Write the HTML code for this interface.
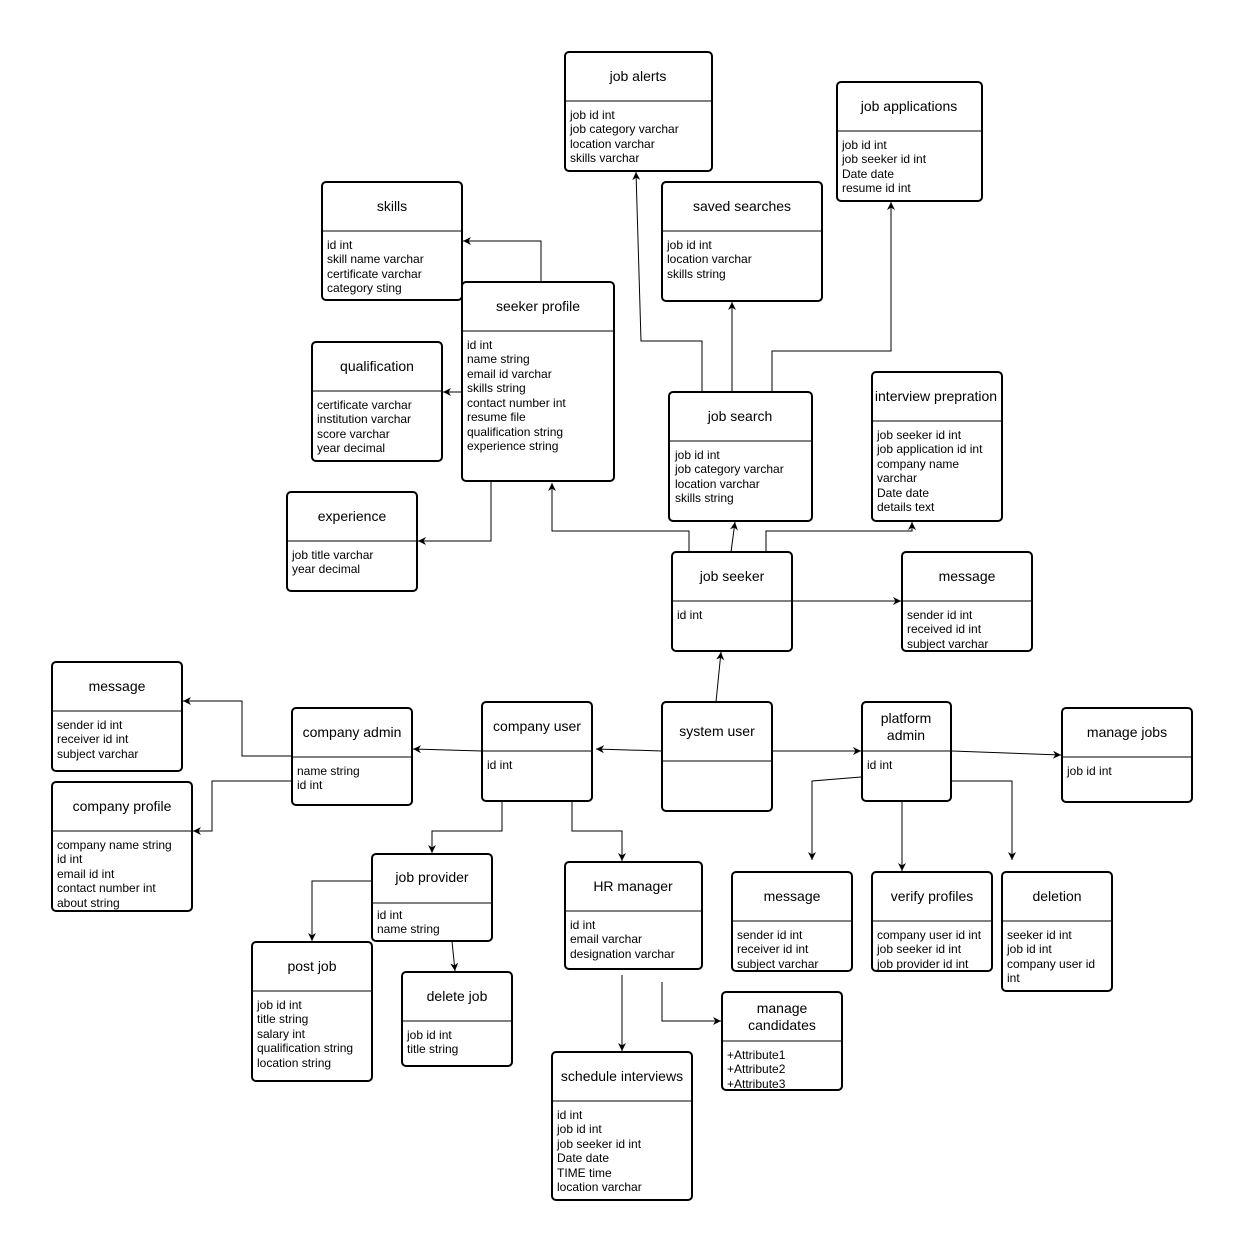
<!DOCTYPE html>
<html><head><meta charset="utf-8"><style>
html,body{margin:0;padding:0;background:#fff}
svg{display:block}
text{font-family:"Liberation Sans",Arial,sans-serif;fill:#000}
.h{font-size:14px;text-anchor:middle}
.b{font-size:12px}
.bx{fill:#fff;stroke:#000;stroke-width:2}
.c{fill:none;stroke:#000;stroke-width:1}
</style></head><body>
<svg width="1242" height="1252" viewBox="0 0 1242 1252" xmlns="http://www.w3.org/2000/svg">
<defs><marker id="a" viewBox="0 0 10 10" refX="10" refY="5" markerWidth="8" markerHeight="8" orient="auto" markerUnits="userSpaceOnUse"><path d="M0,0 L10,5 L0,10 L3,5 z" fill="#000"/></marker></defs>

<!-- connectors -->
<g class="c" marker-end="url(#a)">
<polyline class="c" points="541,282 541,241 463,241" marker-end="url(#a)"/>
<polyline class="c" points="462,392 443,392" marker-end="url(#a)"/>
<polyline class="c" points="491,481 491,541 418,541" marker-end="url(#a)"/>
<polyline class="c" points="689,552 689,531 552,531 552,483" marker-end="url(#a)"/>
<polyline class="c" points="731,552 735,522" marker-end="url(#a)"/>
<polyline class="c" points="766,552 766,531 912,531 912,522" marker-end="url(#a)"/>
<polyline class="c" points="792,601 901,601" marker-end="url(#a)"/>
<polyline class="c" points="702,392 702,341 641,341 636,172" marker-end="url(#a)"/>
<polyline class="c" points="732,392 732,302" marker-end="url(#a)"/>
<polyline class="c" points="772,392 772,351 891,351 891,202" marker-end="url(#a)"/>
<polyline class="c" points="716,702 721,652" marker-end="url(#a)"/>
<polyline class="c" points="662,751 596,749" marker-end="url(#a)"/>
<polyline class="c" points="772,751 861,751" marker-end="url(#a)"/>
<polyline class="c" points="482,751 413,749" marker-end="url(#a)"/>
<polyline class="c" points="292,756 242,756 242,701 183,701" marker-end="url(#a)"/>
<polyline class="c" points="292,781 212,781 212,831 193,831" marker-end="url(#a)"/>
<polyline class="c" points="502,801 502,831 432,831 432,853" marker-end="url(#a)"/>
<polyline class="c" points="572,801 572,831 622,831 622,861" marker-end="url(#a)"/>
<polyline class="c" points="372,881 312,881 312,941" marker-end="url(#a)"/>
<polyline class="c" points="452,941 455,971" marker-end="url(#a)"/>
<polyline class="c" points="622,975 622,1051" marker-end="url(#a)"/>
<polyline class="c" points="662,982 662,1021 721,1021" marker-end="url(#a)"/>
<polyline class="c" points="952,751 1061,755" marker-end="url(#a)"/>
<polyline class="c" points="861,777 812,781 812,860" marker-end="url(#a)"/>
<polyline class="c" points="902,801 902,871" marker-end="url(#a)"/>
<polyline class="c" points="951,781 1012,781 1012,860" marker-end="url(#a)"/>
</g>

<!-- boxes -->
<g>
<rect class="bx" x="565" y="52" width="147" height="119" rx="4"/><line class="c" stroke-width="2" x1="565" y1="101" x2="712" y2="101"/>
<text class="h" x="638" y="81">job alerts</text>
<text class="b" x="570" y="119">job id int</text><text class="b" x="570" y="133">job category varchar</text><text class="b" x="570" y="148">location varchar</text><text class="b" x="570" y="162">skills varchar</text>

<rect class="bx" x="837" y="82" width="145" height="119" rx="4"/><line class="c" stroke-width="2" x1="837" y1="131" x2="982" y2="131"/>
<text class="h" x="909" y="111">job applications</text>
<text class="b" x="842" y="149">job id int</text><text class="b" x="842" y="163">job seeker id int</text><text class="b" x="842" y="178">Date date</text><text class="b" x="842" y="192">resume id int</text>

<rect class="bx" x="322" y="182" width="140" height="118" rx="4"/><line class="c" stroke-width="2" x1="322" y1="231" x2="462" y2="231"/>
<text class="h" x="392" y="211">skills</text>
<text class="b" x="327" y="249">id int</text><text class="b" x="327" y="263">skill name varchar</text><text class="b" x="327" y="278">certificate varchar</text><text class="b" x="327" y="292">category sting</text>

<rect class="bx" x="662" y="182" width="160" height="119" rx="4"/><line class="c" stroke-width="2" x1="662" y1="231" x2="822" y2="231"/>
<text class="h" x="742" y="211">saved searches</text>
<text class="b" x="667" y="249">job id int</text><text class="b" x="667" y="263">location varchar</text><text class="b" x="667" y="278">skills string</text>

<rect class="bx" x="462" y="282" width="152" height="199" rx="4"/><line class="c" stroke-width="2" x1="462" y1="331" x2="614" y2="331"/>
<text class="h" x="538" y="311">seeker profile</text>
<text class="b" x="467" y="349">id int</text><text class="b" x="467" y="363">name string</text><text class="b" x="467" y="378">email id varchar</text><text class="b" x="467" y="392">skills string</text><text class="b" x="467" y="407">contact number int</text><text class="b" x="467" y="421">resume file</text><text class="b" x="467" y="436">qualification string</text><text class="b" x="467" y="450">experience string</text>

<rect class="bx" x="312" y="342" width="130" height="119" rx="4"/><line class="c" stroke-width="2" x1="312" y1="391" x2="442" y2="391"/>
<text class="h" x="377" y="371">qualification</text>
<text class="b" x="317" y="409">certificate varchar</text><text class="b" x="317" y="423">institution varchar</text><text class="b" x="317" y="438">score varchar</text><text class="b" x="317" y="452">year decimal</text>

<rect class="bx" x="669" y="392" width="143" height="129" rx="4"/><line class="c" stroke-width="2" x1="669" y1="441" x2="812" y2="441"/>
<text class="h" x="740" y="421">job search</text>
<text class="b" x="675" y="459">job id int</text><text class="b" x="675" y="473">job category varchar</text><text class="b" x="675" y="488">location varchar</text><text class="b" x="675" y="502">skills string</text>

<rect class="bx" x="872" y="372" width="130" height="149" rx="4"/><line class="c" stroke-width="2" x1="872" y1="421" x2="1002" y2="421"/>
<text class="h" x="936" y="401">interview prepration</text>
<text class="b" x="877" y="439">job seeker id int</text><text class="b" x="877" y="453">job application id int</text><text class="b" x="877" y="468">company name</text><text class="b" x="877" y="482">varchar</text><text class="b" x="877" y="497">Date date</text><text class="b" x="877" y="511">details text</text>

<rect class="bx" x="287" y="492" width="130" height="99" rx="4"/><line class="c" stroke-width="2" x1="287" y1="541" x2="417" y2="541"/>
<text class="h" x="352" y="521">experience</text>
<text class="b" x="292" y="559">job title varchar</text><text class="b" x="292" y="573">year decimal</text>

<rect class="bx" x="672" y="552" width="120" height="99" rx="4"/><line class="c" stroke-width="2" x1="672" y1="601" x2="792" y2="601"/>
<text class="h" x="732" y="581">job seeker</text>
<text class="b" x="677" y="619">id int</text>

<rect class="bx" x="902" y="552" width="130" height="99" rx="4"/><line class="c" stroke-width="2" x1="902" y1="601" x2="1032" y2="601"/>
<text class="h" x="967" y="581">message</text>
<text class="b" x="907" y="619">sender id int</text><text class="b" x="907" y="633">received id int</text><text class="b" x="907" y="648">subject varchar</text>

<rect class="bx" x="52" y="662" width="130" height="109" rx="4"/><line class="c" stroke-width="2" x1="52" y1="711" x2="182" y2="711"/>
<text class="h" x="117" y="691">message</text>
<text class="b" x="57" y="729">sender id int</text><text class="b" x="57" y="743">receiver id int</text><text class="b" x="57" y="758">subject varchar</text>

<rect class="bx" x="292" y="708" width="120" height="97" rx="4"/><line class="c" stroke-width="2" x1="292" y1="757" x2="412" y2="757"/>
<text class="h" x="352" y="737">company admin</text>
<text class="b" x="297" y="775">name string</text><text class="b" x="297" y="789">id int</text>

<rect class="bx" x="482" y="702" width="110" height="99" rx="4"/><line class="c" stroke-width="2" x1="482" y1="751" x2="592" y2="751"/>
<text class="h" x="537" y="731">company user</text>
<text class="b" x="487" y="769">id int</text>

<rect class="bx" x="662" y="702" width="110" height="109" rx="4"/><line class="c" stroke-width="2" x1="662" y1="761" x2="772" y2="761"/>
<text class="h" x="717" y="736">system user</text>

<rect class="bx" x="862" y="702" width="89" height="99" rx="4"/><line class="c" stroke-width="2" x1="862" y1="751" x2="951" y2="751"/>
<text class="h" x="906" y="723">platform</text><text class="h" x="906" y="740">admin</text>
<text class="b" x="867" y="769">id int</text>

<rect class="bx" x="1062" y="708" width="130" height="94" rx="4"/><line class="c" stroke-width="2" x1="1062" y1="757" x2="1192" y2="757"/>
<text class="h" x="1127" y="737">manage jobs</text>
<text class="b" x="1067" y="775">job id int</text>

<rect class="bx" x="52" y="782" width="140" height="129" rx="4"/><line class="c" stroke-width="2" x1="52" y1="831" x2="192" y2="831"/>
<text class="h" x="122" y="811">company profile</text>
<text class="b" x="57" y="849">company name string</text><text class="b" x="57" y="863">id int</text><text class="b" x="57" y="878">email id int</text><text class="b" x="57" y="892">contact number int</text><text class="b" x="57" y="907">about string</text>

<rect class="bx" x="372" y="854" width="120" height="87" rx="4"/><line class="c" stroke-width="2" x1="372" y1="903" x2="492" y2="903"/>
<text class="h" x="432" y="882">job provider</text>
<text class="b" x="377" y="919">id int</text><text class="b" x="377" y="933">name string</text>

<rect class="bx" x="565" y="862" width="137" height="107" rx="4"/><line class="c" stroke-width="2" x1="565" y1="911" x2="702" y2="911"/>
<text class="h" x="633" y="891">HR manager</text>
<text class="b" x="570" y="929">id int</text><text class="b" x="570" y="943">email varchar</text><text class="b" x="570" y="958">designation varchar</text>

<rect class="bx" x="732" y="872" width="120" height="99" rx="4"/><line class="c" stroke-width="2" x1="732" y1="921" x2="852" y2="921"/>
<text class="h" x="792" y="901">message</text>
<text class="b" x="737" y="939">sender id int</text><text class="b" x="737" y="953">receiver id int</text><text class="b" x="737" y="968">subject varchar</text>

<rect class="bx" x="872" y="872" width="120" height="99" rx="4"/><line class="c" stroke-width="2" x1="872" y1="921" x2="992" y2="921"/>
<text class="h" x="932" y="901">verify profiles</text>
<text class="b" x="877" y="939">company user id int</text><text class="b" x="877" y="953">job seeker id int</text><text class="b" x="877" y="968">job provider id int</text>

<rect class="bx" x="1002" y="872" width="110" height="119" rx="4"/><line class="c" stroke-width="2" x1="1002" y1="921" x2="1112" y2="921"/>
<text class="h" x="1057" y="901">deletion</text>
<text class="b" x="1007" y="939">seeker id int</text><text class="b" x="1007" y="953">job id int</text><text class="b" x="1007" y="968">company user id</text><text class="b" x="1007" y="982">int</text>

<rect class="bx" x="252" y="942" width="120" height="139" rx="4"/><line class="c" stroke-width="2" x1="252" y1="991" x2="372" y2="991"/>
<text class="h" x="312" y="971">post job</text>
<text class="b" x="257" y="1009">job id int</text><text class="b" x="257" y="1023">title string</text><text class="b" x="257" y="1038">salary int</text><text class="b" x="257" y="1052">qualification string</text><text class="b" x="257" y="1067">location string</text>

<rect class="bx" x="402" y="972" width="110" height="94" rx="4"/><line class="c" stroke-width="2" x1="402" y1="1021" x2="512" y2="1021"/>
<text class="h" x="457" y="1001">delete job</text>
<text class="b" x="407" y="1039">job id int</text><text class="b" x="407" y="1053">title string</text>

<rect class="bx" x="722" y="992" width="120" height="98" rx="4"/><line class="c" stroke-width="2" x1="722" y1="1041" x2="842" y2="1041"/>
<text class="h" x="782" y="1013">manage</text><text class="h" x="782" y="1030">candidates</text>
<text class="b" x="727" y="1059">+Attribute1</text><text class="b" x="727" y="1073">+Attribute2</text><text class="b" x="727" y="1088">+Attribute3</text>

<rect class="bx" x="552" y="1052" width="140" height="148" rx="4"/><line class="c" stroke-width="2" x1="552" y1="1101" x2="692" y2="1101"/>
<text class="h" x="622" y="1081">schedule interviews</text>
<text class="b" x="557" y="1119">id int</text><text class="b" x="557" y="1133">job id int</text><text class="b" x="557" y="1148">job seeker id int</text><text class="b" x="557" y="1162">Date date</text><text class="b" x="557" y="1177">TIME time</text><text class="b" x="557" y="1191">location varchar</text>
</g>
</svg>
</body></html>
